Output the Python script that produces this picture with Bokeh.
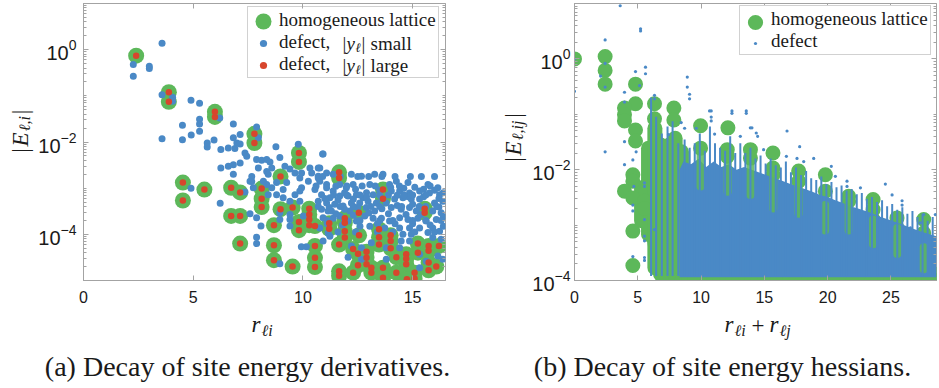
import math
from bokeh.plotting import figure
from bokeh.models import (Range1d, FixedTicker, LinearAxis, LogAxis, Label, Legend,
                          LegendItem, CustomJSTickFormatter)
from bokeh.layouts import row, column
from bokeh.embed import file_html
from bokeh.resources import INLINE

GREEN = "#5db85a"
BLUE = "#4a89c6"
RED = "#d7462d"
FRAME = "#a3a3a3"
TXT = "#1a1a1a"
SANS = "Liberation Sans"
SERIF = "Liberation Serif"

# ---------------- panel (a): site energy derivatives ----------------
hom_r = [2.40, 3.89, 3.89, 5.99, 5.99, 7.79, 7.79, 9.82, 9.82, 8.98,
         11.65, 11.65, 4.53, 4.53, 5.51, 6.73, 7.14, 8.12, 8.12, 8.12,
         6.73, 7.14, 8.98, 9.53, 8.68, 9.82, 9.82, 10.29, 10.29, 10.29,
         10.29, 10.55, 7.14, 8.68, 8.68, 9.53, 10.55, 10.55, 10.55, 11.20,
         11.20, 13.65, 13.65, 15.55, 15.55, 12.55, 11.91, 11.91, 11.91, 11.91,
         12.56, 11.65, 13.47, 13.47, 13.47, 14.00, 14.00, 14.00, 12.29, 12.51,
         12.90, 12.90, 15.24, 15.24, 15.73, 15.73, 15.73, 15.73, 16.20, 14.71,
         14.71, 14.71, 14.26, 12.51, 12.90, 13.12, 13.12, 13.65, 13.65, 14.26,
         11.65, 11.65, 12.29, 15.09, 15.09, 16.08, 14.74]
hom_E = [0.74, 0.12, 0.074, 0.045, 0.035, 0.015, 0.0095, 0.0058, 0.0037, 0.0018,
         0.0022, 0.00166, 0.00132, 0.00054, 0.00093, 0.00102, 0.00081, 0.00098, 0.00059, 0.00039,
         0.00025, 0.00025, 0.00035, 0.00038, 1.58e-4, 1.86e-4, 1.23e-4, 3.6e-4, 2.7e-4, 2.1e-4,
         1.58e-4, 1.51e-4, 6.3e-5, 5.8e-5, 2.75e-5, 2.0e-5, 5.6e-5, 3.1e-5, 1.95e-5, 1.74e-4,
         1.32e-4, 9.3e-4, 5.9e-4, 3.6e-4, 2.95e-4, 2.95e-4, 2.24e-4, 1.78e-4, 1.17e-4, 8.5e-5,
         9.5e-5, 6.0e-5, 1.29e-4, 8.7e-5, 6.0e-5, 9.5e-5, 7.2e-5, 5.0e-5, 4.8e-5, 3.8e-5,
         4.2e-5, 3.1e-5, 6.3e-5, 4.0e-5, 5.6e-5, 4.4e-5, 2.45e-5, 1.66e-5, 5.6e-5, 3.7e-5,
         2.95e-5, 2.24e-5, 3.2e-5, 2.14e-5, 2.24e-5, 1.9e-5, 1.48e-5, 1.9e-5, 1.15e-5, 1.48e-5,
         1.58e-5, 1.26e-5, 1.48e-5, 1.48e-5, 1.1e-5, 2.0e-5, 1.07e-5]

# defect, |y| large: these sit on the homogeneous-lattice values
large_r = list(hom_r)
large_E = list(hom_E)

# defect, |y| small: isolated points
small_r = [3.58, 2.27, 3.00, 3.00, 2.27, 3.58, 4.06, 4.06, 4.90, 5.29,
           6.21, 4.51, 5.29, 5.29, 4.91, 5.29, 3.58, 4.51, 5.64, 5.64,
           5.95, 6.26, 6.26, 6.83, 7.89, 7.97, 6.83, 7.14, 6.99, 7.14,
           6.60, 6.90, 7.36, 7.44, 8.77, 9.79, 10.90, 7.89, 8.12, 8.35,
           8.50, 8.95, 6.60, 6.83, 7.14, 6.83, 7.67, 7.67, 7.97, 8.35,
           8.58, 9.41, 9.86, 10.32, 10.70, 6.23, 7.59, 8.95, 9.41, 8.09,
           9.41, 7.89, 7.89, 8.95, 9.93, 10.16, 11.15, 4.90, 7.36, 7.89,
           9.94, 10.25, 10.70, 11.08, 9.94, 10.55, 9.86, 9.64, 9.10, 9.26,
           8.80, 8.58, 8.35, 8.80, 8.42, 9.10, 9.41, 9.86, 10.70, 8.95,
           9.41, 10.02, 11.15, 7.59, 7.74, 8.20, 8.42, 9.18, 9.64, 10.40, 10.70]
small_E = [1.37, 0.48, 0.44, 0.39, 0.265, 0.106, 0.093, 0.076, 0.080, 0.069,
           0.033, 0.023, 0.031, 0.0245, 0.0141, 0.017, 0.0117, 0.0112, 0.0095, 0.0078,
           0.011, 0.0069, 0.00275, 0.0245, 0.021, 0.0123, 0.0123, 0.0145, 0.0095, 0.0091,
           0.0074, 0.0072, 0.0058, 0.0049, 0.0079, 0.0089, 0.0055, 0.0042, 0.0040, 0.0042,
           0.0037, 0.0046, 0.0030, 0.0032, 0.0035, 0.0020, 0.0018, 0.0014, 0.00275, 0.0023,
           0.00275, 0.0026, 0.00166, 0.00275, 0.00275, 0.00047, 0.00028, 0.00021, 0.00021, 0.000151,
           0.000151, 8.7e-5, 6.3e-5, 2.3e-5, 5.4e-5, 5.4e-5, 1.07e-4, 0.001, 0.00083, 0.00023,
           2.14e-3, 1.41e-3, 1.66e-3, 1.2e-3, 1.02e-3, 9.3e-4, 8.7e-4, 7.2e-4, 9.3e-4, 1.32e-3,
           1.32e-3, 1.02e-3, 1.2e-3, 7.2e-4, 7.2e-4, 6.2e-4, 5.2e-4, 5.2e-4, 5.2e-4, 2.95e-4,
           2.7e-4, 2.5e-4, 3.2e-4, 1.41e-3, 1.02e-3, 1.41e-3, 2.0e-3, 3.0e-3, 2.14e-3, 2.14e-3, 1.82e-3]

# defect, |y| small: the dense cloud at large distance
cloud_r = [10.92, 10.77, 11.08, 11.38, 12.21, 12.67, 13.27, 13.65, 14.79, 15.70,
           16.15, 14.26, 13.95, 13.05, 12.29, 11.98, 11.68, 11.38, 11.08, 10.77,
           10.85, 11.23, 11.68, 12.06, 12.44, 12.74, 13.20, 14.03, 14.41, 14.86,
           15.32, 15.77, 16.23, 16.38, 16.00, 15.32, 14.94, 14.56, 14.18, 13.80,
           13.35, 12.97, 12.59, 12.21, 11.83, 11.45, 11.08, 10.85, 11.30, 12.14,
           12.89, 13.27, 14.03, 14.48, 14.86, 15.17, 15.92, 16.30, 16.08, 15.62,
           15.24, 14.79, 14.41, 13.95, 13.58, 13.20, 12.82, 12.44, 12.06, 11.68,
           11.38, 10.92, 10.77, 13.05, 13.73, 14.41, 14.86, 15.32, 15.92, 16.23,
           15.70, 14.94, 14.56, 14.48, 14.86, 15.92, 16.30, 13.12, 12.67, 12.21,
           13.80, 14.41, 12.06, 11.23, 10.92, 15.32, 16.15, 15.62, 16.38, 15.32,
           13.80, 12.67,
           11.5, 11.9, 12.4, 12.9, 13.5, 14.0, 14.6, 15.1, 15.5, 16.0, 16.4,
           11.0, 11.6, 12.3, 12.9, 13.6, 14.3, 14.8, 15.5, 16.2,
           11.2, 11.9, 12.5, 13.1, 13.6, 14.3, 15.0, 15.6, 16.2,
           11.5, 12.3, 13.0, 13.9, 14.7, 15.4, 16.4,
           11.1, 11.8, 12.6, 13.4, 14.2, 15.0, 15.8, 16.4,
           10.9, 11.7, 12.5, 13.0, 13.6, 14.2, 14.9, 15.4, 16.0,
           10.6, 12.0, 12.7, 13.3, 14.4, 15.8,
           11.4, 12.0, 12.6, 13.5, 13.9, 14.6, 15.0, 15.6,
           10.7, 11.7, 12.3, 13.5, 14.5, 15.3, 16.1,
           11.1, 11.9, 12.6, 13.5, 14.1, 15.0, 15.6, 16.3,
           11.6, 12.4, 13.4, 14.1, 15.1, 16.0]
cloud_E = [5.5e-3, 2.75e-3, 2.14e-3, 2.0e-3, 2.0e-3, 1.82e-3, 2.0e-3, 2.0e-3, 1.32e-3, 1.2e-3,
           1.02e-3, 1.41e-3, 1.2e-3, 1.2e-3, 1.2e-3, 1.02e-3, 1.2e-3, 8.7e-4, 1.02e-3, 1.41e-3,
           7.2e-4, 6.2e-4, 6.8e-4, 6.8e-4, 7.2e-4, 6.2e-4, 7.2e-4, 8.7e-4, 8.7e-4, 7.9e-4,
           8.7e-4, 7.9e-4, 7.2e-4, 5.2e-4, 4.8e-4, 5.8e-4, 5.8e-4, 6.2e-4, 5.8e-4, 4.8e-4,
           4.8e-4, 5.2e-4, 4.8e-4, 4.8e-4, 4.1e-4, 4.5e-4, 4.8e-4, 3.5e-4, 3.2e-4, 3.2e-4,
           3.8e-4, 3.2e-4, 3.8e-4, 3.5e-4, 3.8e-4, 3.2e-4, 3.2e-4, 2.95e-4, 2.1e-4, 1.95e-4,
           2.24e-4, 2.1e-4, 2.3e-4, 1.95e-4, 2.24e-4, 2.24e-4, 2.5e-4, 1.95e-4, 1.95e-4, 2.5e-4,
           2.24e-4, 2.3e-4, 1.38e-4, 1.5e-4, 1.38e-4, 1.38e-4, 1.38e-4, 1.38e-4, 1.38e-4, 1.17e-4,
           1.1e-4, 1.0e-4, 1.0e-4, 7.2e-5, 7.2e-5, 8.5e-5, 7.8e-5, 6.6e-5, 5.1e-5, 5.6e-5,
           5.1e-5, 5.1e-5, 3.2e-5, 9.1e-5, 7.2e-5, 3.7e-5, 3.4e-5, 2.6e-5, 2.9e-5, 1.9e-5,
           2.9e-5, 2.9e-5,
           1.1e-3, 8.0e-4, 9.5e-4, 8.0e-4, 9.0e-4, 1.05e-3, 1.0e-3, 1.05e-3, 9.5e-4, 9.0e-4, 8.0e-4,
           6.0e-4, 5.5e-4, 5.8e-4, 6.5e-4, 6.0e-4, 7.0e-4, 6.5e-4, 6.5e-4, 6.0e-4,
           3.8e-4, 3.5e-4, 3.8e-4, 4.0e-4, 3.6e-4, 4.2e-4, 4.5e-4, 4.0e-4, 3.9e-4,
           2.8e-4, 2.6e-4, 2.9e-4, 2.8e-4, 2.7e-4, 2.7e-4, 2.4e-4,
           1.7e-4, 1.6e-4, 1.5e-4, 1.7e-4, 1.7e-4, 1.7e-4, 1.6e-4, 1.5e-4,
           1.8e-3, 1.8e-3, 1.8e-3, 1.8e-3, 1.8e-3, 1.8e-3, 1.8e-3, 1.8e-3, 1.8e-3,
           1.12e-3, 1.12e-3, 1.12e-3, 1.12e-3, 1.12e-3, 1.12e-3,
           7.1e-4, 7.1e-4, 7.1e-4, 7.1e-4, 7.1e-4, 7.1e-4, 7.1e-4, 7.1e-4,
           4.0e-4, 4.0e-4, 4.0e-4, 4.0e-4, 4.0e-4, 4.0e-4, 4.0e-4,
           2.0e-4, 2.0e-4, 2.0e-4, 2.0e-4, 2.0e-4, 2.0e-4, 2.0e-4, 2.0e-4,
           1.12e-4, 1.12e-4, 1.12e-4, 1.12e-4, 1.12e-4, 1.12e-4]

# ---------------- panel (b): site energy hessians ----------------
hh_r = [0.0, 2.42, 2.42, 2.42, 4.82, 4.82, 3.95, 3.95, 3.95, 4.82,
        4.82, 4.61, 4.61, 3.95, 4.61, 5.53, 5.53, 4.61, 4.61, 6.32,
        6.32, 7.85, 7.85, 9.96, 12.12, 12.07, 12.07, 9.96, 13.90, 13.90,
        15.68, 15.68, 15.68, 17.71, 17.71, 19.82, 19.82, 19.82, 21.66, 21.66,
        23.59, 23.59, 23.59, 25.48, 25.48, 27.59, 27.59, 27.59, 25.22, 28.50]
hh_E = [1.0, 1.1, 0.62, 0.35, 0.35, 0.155, 0.13, 0.098, 0.076, 0.052,
        0.033, 8.1e-3, 6.2e-3, 4.1e-3, 3.1e-3, 2.7e-3, 2.0e-3, 7.8e-4, 1.86e-4, 0.155,
        0.083, 0.13, 0.079, 0.062, 0.057, 0.023, 0.0174, 0.0245, 0.023, 0.0162,
        0.02, 0.0107, 8.1e-3, 9.5e-3, 6.2e-3, 8.1e-3, 4.1e-3, 2.3e-3, 3.3e-3, 2.7e-3,
        2.9e-3, 1.9e-3, 1.26e-3, 1.35e-3, 8.9e-4, 1.26e-3, 7.2e-4, 4.0e-4, 3.5e-4, 1.3e-4]

# homogeneous values sitting on the lower limit of the axis
hh_floor_r = [7.0, 7.5, 8.0, 8.5, 9.0, 9.5, 10.0, 10.5, 11.0, 11.5, 12.0, 12.5, 13.0,
              13.5, 14.0, 14.5, 15.0, 15.5, 16.0, 16.5, 17.0, 17.5, 18.0, 18.5, 19.0,
              19.5, 20.0, 20.5, 21.0, 21.5, 22.0, 22.5, 23.0, 23.5, 24.0, 24.5, 25.0,
              25.5, 26.0, 26.5, 27.0, 27.5, 28.0, 28.5]
hh_floor_E = [1.0e-4] * len(hh_floor_r)

# region at 5.4 < r < 8.5 filled by overlapping homogeneous markers
hblock_r = [5.45, 5.7, 6.0, 6.5, 7.0, 7.5, 8.0, 8.45]
hblock_top = [2.5e-3, 0.02, 0.03, 0.05, 0.03, 0.03, 0.035, 0.018]
hblock_bot = [1.3e-3, 6.0e-4, 2.0e-4, 1.0e-4, 1.0e-4, 1.0e-4, 1.0e-4, 1.0e-4]
# stacks of overlapping homogeneous markers (column r, top value, bottom value)
hstack_r = [5.30, 5.85, 6.35, 6.80, 7.50, 7.95, 8.45]
hstack_top = [4.7e-3, 0.0245, 0.056, 0.028, 0.028, 0.037, 0.021]
hstack_bot = [1.2e-3, 6.8e-4, 1.7e-4, 1.3e-4, 1.0e-4, 1.0e-4, 1.0e-4]
hstreak_r = [9.96, 12.1, 13.9, 15.7, 17.7, 19.8, 21.66, 23.59, 25.5, 27.59]
hstreak_top = [0.024, 0.017, 0.016, 8e-3, 6e-3, 2.3e-3, 2.7e-3, 1.26e-3, 8.9e-4, 4.0e-4]
hstreak_bot = [5e-3, 4e-3, 3.5e-3, 2e-3, 1.6e-3, 8e-4, 8e-4, 4.5e-4, 3e-4, 1.6e-4]

# defect hessian entries: isolated points
dh_r = [3.61, 5.22, 5.22, 2.42, 2.42, 2.42, 2.06, 0.0, 0.0, 2.42,
        4.82, 5.61, 5.61, 3.95, 3.95, 5.14, 6.32, 6.32, 8.91, 8.91,
        9.09, 9.09, 10.67, 10.80, 12.44, 12.44, 13.57, 13.57, 3.95, 3.95,
        4.61, 4.87, 5.53, 5.53, 5.53, 5.53, 5.53, 5.53, 5.53, 4.61,
        4.61, 4.61, 4.69, 6.32, 10.80, 10.80, 13.89, 13.10, 11.07, 9.62,
        8.43, 8.70, 7.43, 16.79, 17.79, 14.36, 14.47, 14.02, 14.94, 16.74,
        17.58, 18.11, 18.90, 20.29, 20.61, 21.53, 21.53, 22.59, 24.56, 25.09,
        25.88, 25.88, 28.51, 27.59, 26.54, 27.33]
dh_E = [9.1, 3.5, 3.2, 2.2, 0.83, 0.31, 0.49, 1.0, 0.26, 0.021,
        0.59, 0.71, 0.54, 0.25, 0.166, 0.33, 0.22, 0.19, 0.47, 0.31,
        0.23, 0.19, 0.115, 0.115, 0.115, 0.104, 0.115, 0.104, 0.032, 0.0123,
        0.015, 0.021, 5.8e-3, 5.0e-3, 1.26e-3, 6.3e-4, 5.2e-4, 2.6e-4, 2.3e-4, 2.7e-4,
        2.3e-3, 1.8e-3, 5.0e-3, 8.3e-4, 0.089, 0.076, 0.057, 0.04, 0.044, 0.056,
        0.071, 0.056, 0.043, 0.05, 0.026, 0.046, 0.04, 0.057, 0.023, 0.0174,
        0.016, 0.014, 0.016, 0.0115, 7.6e-3, 5.0e-3, 6.2e-3, 4.7e-3, 5.5e-3, 3.5e-3,
        2.75e-3, 2.3e-3, 1.55e-3, 1.55e-3, 8.9e-4, 1.1e-3]

# defect hessian entries: columns of densely stacked points (r, top value)
dcol_r = [6.05, 6.45, 6.90, 7.35, 7.75, 8.20,
          8.7, 9.1, 9.5, 9.9, 10.3, 10.7, 11.1, 11.5, 11.9, 12.3, 12.7, 13.1, 13.5,
          13.9, 14.3, 14.7, 15.1, 15.5, 15.9, 16.3, 16.7, 17.1, 17.5, 17.9, 18.3,
          18.7, 19.1, 19.5, 19.9, 20.3, 20.7, 21.1, 21.5, 21.9, 22.3, 22.7, 23.1,
          23.5, 23.9, 24.3, 24.7, 25.1, 25.5, 25.9, 26.3, 26.7, 27.1, 27.5, 27.9, 28.3]
dcol_top = [0.2, 0.09, 0.045, 0.06, 0.075, 0.03,
            0.035, 0.025, 0.03, 0.045, 0.022, 0.06, 0.03, 0.025, 0.022, 0.04, 0.02, 0.03, 0.02,
            0.025, 0.016, 0.018, 0.013, 0.016, 0.012, 0.011, 0.014, 0.009, 0.011, 0.008, 0.0095,
            0.007, 0.0065, 0.0075, 0.0055, 0.006, 0.0048, 0.0052, 0.0042, 0.0045, 0.0036, 0.0038, 0.003,
            0.0032, 0.0026, 0.0028, 0.0022, 0.0024, 0.0019, 0.0021, 0.0016, 0.0018, 0.0014, 0.0016, 0.0012, 0.0014]
dcol_bot = [1.2e-4] * len(dcol_r)

# defect hessian entries: solid envelope of the dense mass
dmass_r = [8.3, 8.6, 9.2, 9.8, 10.4, 11.0, 11.6, 12.2, 12.8, 13.4, 14.0, 14.6, 15.2,
           15.8, 16.4, 17.0, 17.6, 18.2, 18.8, 19.4, 20.0, 20.6, 21.2, 21.8, 22.4,
           23.0, 23.6, 24.2, 24.8, 25.4, 26.0, 26.6, 27.2, 27.8, 28.6]
dmass_top = [1.0e-2, 1.41e-2, 1.26e-2, 1.58e-2, 1.12e-2, 1.41e-2, 1.12e-2, 1.26e-2, 1.0e-2,
             1.12e-2, 1.0e-2, 8.9e-3, 7.9e-3, 7.1e-3, 6.3e-3, 5.6e-3, 5.0e-3, 4.5e-3,
             4.0e-3, 3.5e-3, 3.2e-3, 2.8e-3, 2.5e-3, 2.2e-3, 2.0e-3, 1.8e-3, 1.6e-3,
             1.4e-3, 1.26e-3, 1.12e-3, 1.0e-3, 8.9e-4, 7.9e-4, 7.1e-4, 6.3e-4]
dmass_bot = [1.15e-4] * len(dmass_r)

# ticks and texts
xticks_a = [0, 5, 10, 15]
xticks_b = [0, 5, 10, 15, 20, 25]
yticks = [1e-4, 1e-2, 1.0]
minor_y = [m * 10.0 ** e for e in range(-6, 2) for m in range(1, 10)
           if not (m == 1 and e in (-4, -2, 0))]
caption_a = "(a) Decay of site energy derivatives."
caption_b = "(b) Decay of site energy hessians."

TOP_H = 310
BOT_H = 78


def setup(p, xt, ystandoff):
    p.xgrid.visible = False
    p.ygrid.visible = False
    p.outline_line_color = FRAME
    p.outline_line_width = 1
    xa = p.xaxis[0]
    xa.ticker = FixedTicker(ticks=xt)
    ya = p.yaxis[0]
    ya.ticker = FixedTicker(ticks=yticks, minor_ticks=minor_y)
    for ax in (xa, ya):
        ax.axis_line_color = FRAME
        ax.major_tick_line_color = FRAME
        ax.minor_tick_line_color = FRAME
        ax.major_tick_in = 5
        ax.major_tick_out = 0
        ax.minor_tick_in = 3
        ax.minor_tick_out = 0
        ax.major_label_text_font = SANS
        ax.major_label_text_color = TXT
    xa.major_label_text_font_size = "16px"
    xa.major_label_standoff = 10
    ya.major_label_text_font_size = "20px"
    ya.major_label_standoff = ystandoff
    blank = CustomJSTickFormatter(code="return ''")
    top = LinearAxis(ticker=FixedTicker(ticks=xt), formatter=blank)
    right = LogAxis(ticker=FixedTicker(ticks=yticks, minor_ticks=minor_y), formatter=blank)
    for ax in (top, right):
        ax.axis_line_color = None
        ax.major_tick_line_color = FRAME
        ax.minor_tick_line_color = FRAME
        ax.major_tick_in = 5
        ax.major_tick_out = 0
        ax.minor_tick_in = 3
        ax.minor_tick_out = 0
        ax.major_label_standoff = 0
        ax.major_label_text_font_size = "0px"
    p.add_layout(top, "above")
    p.add_layout(right, "right")


def legend(p, items, loc, glyph_w, glyph_h, row_h, padding, border=True, standoff=1,
           font=19, fill_alpha=None):
    if fill_alpha is None:
        fill_alpha = 1.0 if border else 0.0
    lg = Legend(items=items, location=loc, glyph_width=glyph_w, glyph_height=glyph_h,
                label_height=row_h, label_standoff=standoff, padding=padding, spacing=0,
                margin=0, label_text_font=SERIF, label_text_font_size=f"{font}px",
                label_text_color=TXT,
                border_line_color=FRAME if border else None,
                background_fill_alpha=fill_alpha)
    p.add_layout(lg)


def textfig(w, h):
    f = figure(width=w, height=h, x_range=Range1d(0, w), y_range=Range1d(h, 0),
               output_backend="svg", toolbar_location=None, min_border=0,
               x_axis_location=None, y_axis_location=None, outline_line_color=None,
               background_fill_color="white", border_fill_color="white")
    f.xgrid.visible = False
    f.ygrid.visible = False
    return f


def txt(f, x, y, text, size, italic=False, angle=0.0, align="left", baseline="middle"):
    f.add_layout(Label(x=x, y=y, text=text, text_font=SERIF, text_font_size=f"{size}px",
                       text_font_style="italic" if italic else "normal",
                       angle=angle, text_align=align, text_baseline=baseline,
                       text_color=TXT))


# ---------------- figure (a) ----------------
pa = figure(width=436, height=TOP_H, x_range=Range1d(0, 16.5), y_range=Range1d(1e-5, 10),
            y_axis_type="log", output_backend="svg", toolbar_location=None,
            min_border_left=49, min_border_right=25, min_border_top=3, min_border_bottom=30,
            background_fill_color="white", border_fill_color="white")
setup(pa, xticks_a, 7)

ra_h = pa.scatter(hom_r, hom_E, size=16, fill_color=GREEN, line_color=None)
ra_s = pa.scatter(small_r + cloud_r, small_E + cloud_E, size=7, fill_color=BLUE, line_color=None)
ra_l = pa.scatter(large_r, large_E, size=6.5, fill_color=RED, line_color=None)
ra_dummy = pa.scatter(hom_r[:1], hom_E[:1], size=0, fill_alpha=0, line_alpha=0)

legend(pa, [LegendItem(label="homogeneous lattice", renderers=[ra_dummy]),
            LegendItem(label="defect,", renderers=[ra_dummy]),
            LegendItem(label="defect,", renderers=[ra_dummy])],
       (164, 202), 28, 22, 22, 2, fill_alpha=0.0)
legend(pa, [LegendItem(label=" ", renderers=[ra_h])], (160, 239), 40, 40, 0, 0, border=False, standoff=0, font=1)
legend(pa, [LegendItem(label=" ", renderers=[ra_s])], (171, 228), 18, 18, 0, 0, border=False, standoff=0, font=1)
legend(pa, [LegendItem(label=" ", renderers=[ra_l])], (171, 206), 18, 18, 0, 0, border=False, standoff=0, font=1)

# remainder of the two defect legend entries: |y_l| small / |y_l| large
PX_X = 16.5 / 362.0        # data units per pixel along r
PX_DEC = 6.0 / 277.0       # decades per pixel along |E|


def leg_txt(dx, dy, text, size, italic=False):
    # dx, dy: pixel offsets from the top-left corner of the frame
    pa.add_layout(Label(x=dx * PX_X, y=10.0 ** (1.0 - dy * PX_DEC), text=text,
                        x_units="data", y_units="data", level="overlay",
                        text_font=SERIF, text_font_size=f"{size}px",
                        text_font_style="italic" if italic else "normal",
                        text_align="left", text_baseline="middle", text_color=TXT))


for row_dy, word in ((40, "small"), (62, "large")):
    leg_txt(259, row_dy, "|", 19)
    leg_txt(263, row_dy, "y", 19, italic=True)
    leg_txt(272, row_dy + 4, "ℓ", 13, italic=True)
    leg_txt(278, row_dy, "|", 19)
    leg_txt(287, row_dy, word, 19)

# ---------------- figure (b) ----------------
pb = figure(width=411, height=TOP_H, x_range=Range1d(0, 28.6), y_range=Range1d(1e-4, 10),
            y_axis_type="log", output_backend="svg", toolbar_location=None,
            min_border_left=46, min_border_right=3, min_border_top=3, min_border_bottom=30,
            background_fill_color="white", border_fill_color="white")
setup(pb, xticks_b, 4)

pb.varea(x=hblock_r, y1=hblock_bot, y2=hblock_top, fill_color=GREEN)
pb.segment(hstack_r, hstack_bot, hstack_r, hstack_top, line_width=15, line_color=GREEN, line_cap="round")
rb_h = pb.scatter(hh_r, hh_E, size=15, fill_color=GREEN, line_color=None)
pb.scatter(hh_floor_r, hh_floor_E, size=15, fill_color=GREEN, line_color=None)
pb.varea(x=dmass_r, y1=dmass_bot, y2=dmass_top, fill_color=BLUE)
pb.segment(hstreak_r, hstreak_bot, hstreak_r, hstreak_top, line_width=8, line_color=GREEN,
           line_alpha=0.85, line_cap="round")
pb.segment(dcol_r, dcol_bot, dcol_r, dcol_top, line_width=2, line_color=BLUE)
rb_d = pb.scatter(dh_r, dh_E, size=3.2, fill_color=BLUE, line_color=None)
rb_dummy = pb.scatter(hh_r[:1], hh_E[:1], size=0, fill_alpha=0, line_alpha=0)

legend(pb, [LegendItem(label="homogeneous lattice", renderers=[rb_dummy]),
            LegendItem(label="defect", renderers=[rb_dummy])],
       (165, 225), 28, 21, 21, 2)
legend(pb, [LegendItem(label=" ", renderers=[rb_h])], (162, 239.5), 38, 38, 0, 0, border=False, standoff=0, font=1)
legend(pb, [LegendItem(label=" ", renderers=[rb_d])], (177, 233.5), 8, 8, 0, 0, border=False, standoff=0, font=1)

# ---------------- axis titles and captions ----------------
half = math.pi / 2
ya_fig = textfig(34, TOP_H)
txt(ya_fig, 20, 167, "|", 23, angle=half)
txt(ya_fig, 20, 160, "E", 23, italic=True, angle=half)
txt(ya_fig, 24, 143, "ℓ,i", 16, italic=True, angle=half)
txt(ya_fig, 20, 124, "|", 23, angle=half)

yb_fig = textfig(58, TOP_H)
txt(yb_fig, 43, 177, "|", 23, angle=half)
txt(yb_fig, 43, 170, "E", 23, italic=True, angle=half)
txt(yb_fig, 47, 153, "ℓ,ij", 16, italic=True, angle=half)
txt(yb_fig, 43, 128, "|", 23, angle=half)

bottom = textfig(939, BOT_H)
txt(bottom, 251, 14, "r", 23, italic=True)
txt(bottom, 261, 20, "ℓi", 16, italic=True)
bx = 724
txt(bottom, bx, 14, "r", 23, italic=True)
txt(bottom, bx + 10, 20, "ℓi", 16, italic=True)
txt(bottom, bx + 27, 15, "+", 23)
txt(bottom, bx + 45, 14, "r", 23, italic=True)
txt(bottom, bx + 55, 20, "ℓj", 16, italic=True)
txt(bottom, 247, 56, caption_a, 28, align="center")
txt(bottom, 722, 56, caption_b, 28, align="center")

layout = column(row(ya_fig, pa, yb_fig, pb, spacing=0), bottom, spacing=0)
open("out.html", "w").write(file_html(layout, INLINE))
